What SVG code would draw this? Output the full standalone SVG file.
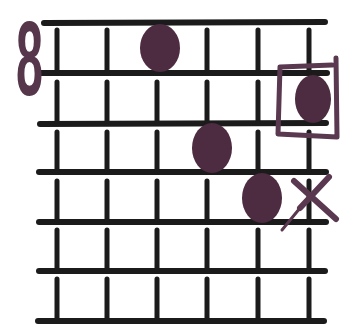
<svg xmlns="http://www.w3.org/2000/svg" width="345" height="334" viewBox="0 0 345 334">
<style>
.fret{stroke:#1b1b1b;stroke-width:6;stroke-linecap:round;fill:none}
.str{stroke:#1b1b1b;stroke-width:5;stroke-linecap:round;fill:none}
.dot{fill:#4d2b40}
.ink{stroke:#5a3950;fill:none;stroke-linecap:round;stroke-linejoin:round}
</style>
<rect width="345" height="334" fill="#ffffff"/>
<g id="grid">
<line class="fret" x1="44" y1="23" x2="325" y2="22"/>
<line class="fret" x1="40" y1="73" x2="327" y2="73"/>
<line class="fret" x1="40" y1="124" x2="326" y2="123"/>
<line class="fret" x1="39" y1="172" x2="326" y2="172"/>
<line class="fret" x1="39" y1="222" x2="326" y2="222"/>
<line class="fret" x1="39" y1="271" x2="325" y2="271"/>
<line class="fret" x1="38" y1="321" x2="324" y2="321"/>
<path class="str" d="M57,30V72M57,82V123M57,132V172M57,181V222M57,230V271M57,279V320"/>
<path class="str" d="M107,30V72M107,82V123M107,132V172M107,181V222M107,230V271M107,279V320"/>
<path class="str" d="M157,30V72M157,82V123M157,132V172M157,181V222M157,230V271M157,279V320"/>
<path class="str" d="M207,30V72M207,82V123M207,132V172M207,181V222M207,230V271M207,279V320"/>
<path class="str" d="M258,30V72M258,82V123M258,132V172M258,181V222M258,230V271M258,279V320"/>
<path class="str" d="M309,30V72M309,82V123M309,132V172M309,181V222M309,230V271M309,279V320"/>
</g>
<g id="fret-number">
<text x="16" y="95" textLength="27" lengthAdjust="spacingAndGlyphs" font-family="Liberation Sans, Arial, sans-serif" font-weight="bold" font-size="106" fill="#55364b">8</text>
</g>
<g id="dot1"><ellipse class="dot" cx="160" cy="48" rx="20" ry="24"/></g>
<g id="dot2">
<ellipse class="dot" cx="313" cy="99" rx="18" ry="24"/>
<path class="ink" stroke-width="5" d="M280,67 L332,65 M336,58 L337,137 L278,134 L280,67"/>
</g>
<g id="dot3"><ellipse class="dot" cx="212" cy="148" rx="20" ry="25"/></g>
<g id="dot4"><ellipse class="dot" cx="262" cy="198" rx="20" ry="25"/></g>
<g id="mute">
<path class="ink" stroke-width="6" d="M294,181 L336,219 M329,177 L300,208"/>
<path class="ink" stroke-width="3" d="M300,208 L282,230"/>
</g>
</svg>
